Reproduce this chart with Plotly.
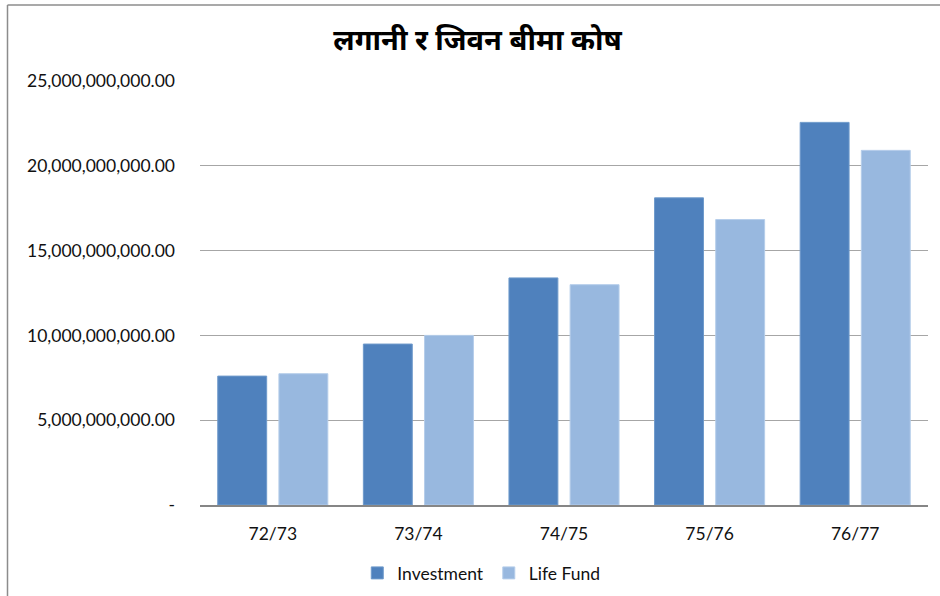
import plotly.graph_objects as go

categories = ["72/73", "73/74", "74/75", "75/76", "76/77"]
investment = [7.60e9, 9.49e9, 13.39e9, 18.11e9, 22.56e9]
life_fund = [7.74e9, 10.00e9, 12.99e9, 16.83e9, 20.91e9]
tick_vals = [0, 5e9, 10e9, 15e9, 20e9, 25e9]
tick_text = ["-", "5,000,000,000.00", "10,000,000,000.00", "15,000,000,000.00",
             "20,000,000,000.00", "25,000,000,000.00"]
title_text = "लगानी र जिवन बीमा कोष"

FONT = "Lato, 'Open Sans', 'Noto Sans', sans-serif"
TFONT = "'Noto Sans Devanagari', 'Lohit Devanagari', Mangal, 'Noto Sans', sans-serif"

fig = go.Figure()
fig.add_trace(go.Bar(name="Investment", x=categories, y=investment,
                     marker=dict(color="#4F81BD", line=dict(color="#6f9acb", width=1))))
fig.add_trace(go.Bar(name="Life Fund", x=categories, y=life_fund,
                     marker=dict(color="#98B8DF", line=dict(color="#b5cdea", width=1))))

W, H = 940, 596
L, R, T, B = 200, 12, 81, 91
pw, ph = W - L - R, H - T - B

fig.update_layout(
    width=W, height=H,
    margin=dict(l=L, r=R, t=T, b=B),
    paper_bgcolor="white", plot_bgcolor="white",
    barmode="group", bargap=0.16, bargroupgap=0.2,
    font=dict(family=FONT, size=17.5, color="#111111"),
    title=dict(text=title_text, x=0.508, xref="container", xanchor="center",
               y=1 - 40 / H, yref="container", yanchor="middle",
               font=dict(family=TFONT, size=29, color="#000000", weight="bold")),
    legend=dict(orientation="h", xref="container", x=0.512, xanchor="center",
                yref="container", y=1 - 573 / H, yanchor="middle",
                font=dict(size=17.5, family=FONT), itemwidth=30, traceorder="normal"),
    showlegend=True,
)
fig.update_yaxes(range=[0, 25e9], tickvals=tick_vals, ticktext=tick_text,
                 showgrid=True, gridcolor="#a6a6a6", gridwidth=1,
                 zeroline=False, showline=False, ticks="",
                 ticklabelstandoff=24, tickfont=dict(size=17.5))
fig.update_xaxes(showline=True, linecolor="#868686", linewidth=1.5,
                 ticks="", tickfont=dict(size=17.5), ticklabelstandoff=12)

# chart border (top and left edge visible in the reference)
left_x = (7.5 - L) / pw
top_y = (H - B - 5) / ph
fig.add_shape(type="line", xref="paper", yref="paper", x0=left_x, x1=(W - L) / pw,
              y0=top_y, y1=top_y, line=dict(color="#8c8c8c", width=1.5))
fig.add_shape(type="line", xref="paper", yref="paper", x0=left_x, x1=left_x,
              y0=top_y, y1=(H - B - 600) / ph, line=dict(color="#8c8c8c", width=1.5))

fig.write_html("out.html", config={"displayModeBar": False},
               post_script="document.body.style.margin='0';")
